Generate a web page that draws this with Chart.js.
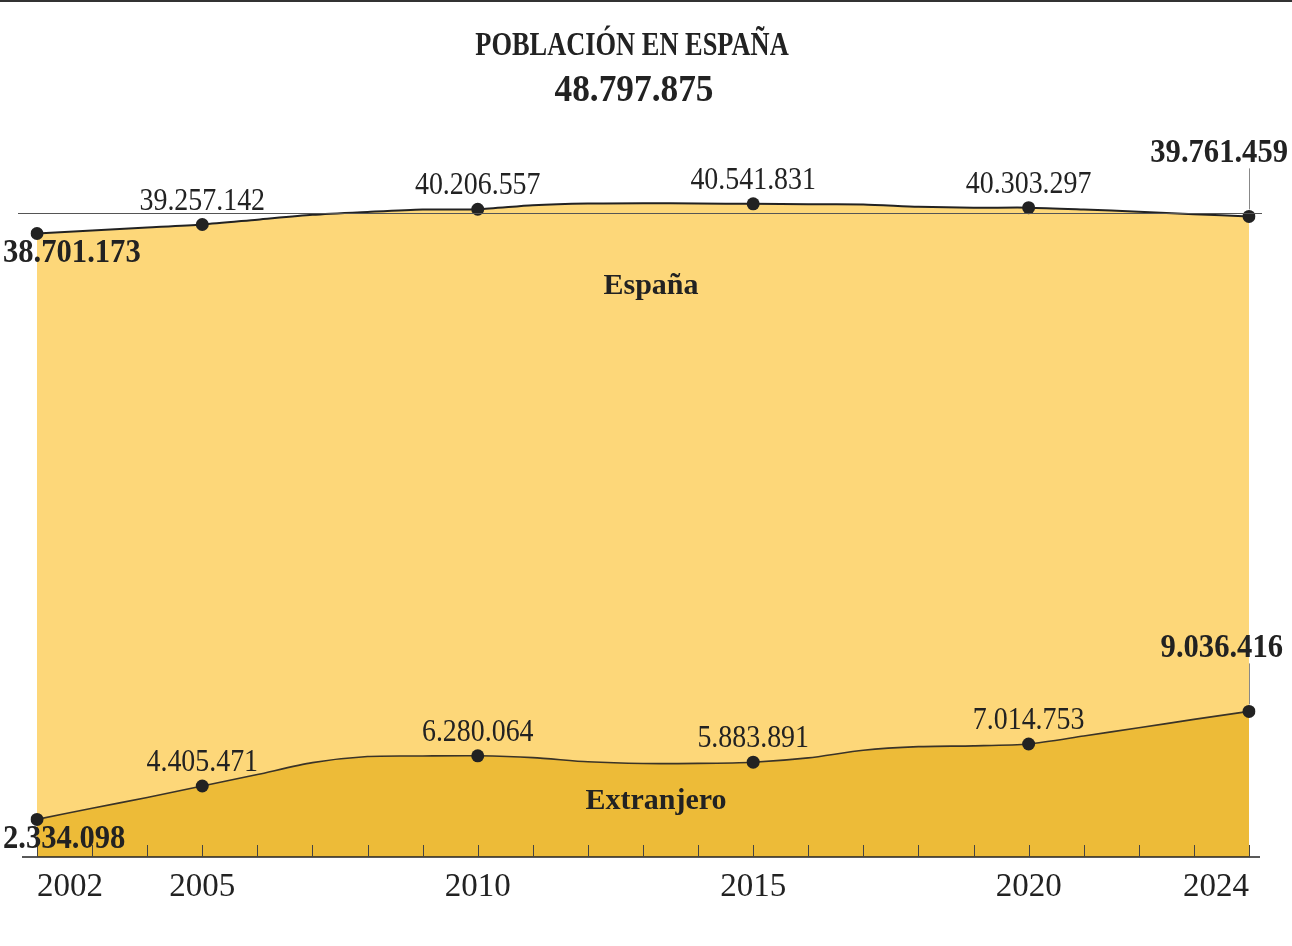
<!DOCTYPE html>
<html>
<head>
<meta charset="utf-8">
<script src="https://cdn.jsdelivr.net/npm/chart.js@4.4.1/dist/chart.umd.min.js"></script>
<style>
  html, body { margin: 0; padding: 0; background: #fff; }
  #wrap { width: 1292px; height: 946px; position: relative; }
</style>
</head>
<body>
<div id="wrap"><canvas id="c" width="1292" height="946"></canvas></div>
<script>
// ---- data ----
const years = ['2002','2003','2004','2005','2006','2007','2008','2009','2010','2011','2012','2013','2014','2015','2016','2017','2018','2019','2020','2021','2022','2023','2024'];
const espana = [38701173, 38890000, 39070000, 39257142, 39560000, 39860000, 40040000, 40190000, 40206557, 40450000, 40560000, 40580000, 40560000, 40541831, 40510000, 40500000, 40360000, 40300000, 40303297, 40190000, 40050000, 39900000, 39761459];
const extranjero = [2334098, 3030000, 3690000, 4405471, 5120000, 5860000, 6240000, 6270000, 6280064, 6170000, 5910000, 5800000, 5810000, 5883891, 6150000, 6630000, 6850000, 6900000, 7014753, 7510000, 8020000, 8540000, 9036416];
const labeledYears = ['2002','2005','2010','2015','2020','2024'];
const seriesNames = ['España', 'Extranjero'];
const titleText = 'POBLACIÓN EN ESPAÑA';
const refLineValue = 40000000;
const yMax = 45000000;

// ---- helpers ----
const FAM = "'Liberation Serif', 'DejaVu Serif', serif";
const INK = '#222';
function fmt(n) { return String(n).replace(/\B(?=(\d{3})+(?!\d))/g, '.'); }
function txt(ctx, s, x, y, font, align, sx) {
  ctx.save();
  ctx.font = font;
  ctx.fillStyle = INK;
  ctx.textBaseline = 'alphabetic';
  ctx.textAlign = align;
  ctx.translate(x, y);
  ctx.scale(sx, 1);
  ctx.fillText(s, 0, 0);
  ctx.restore();
}
function seg(ctx, x1, y1, x2, y2, color, w) {
  ctx.save();
  ctx.strokeStyle = color;
  ctx.lineWidth = w;
  ctx.beginPath();
  ctx.moveTo(x1, y1);
  ctx.lineTo(x2, y2);
  ctx.stroke();
  ctx.restore();
}

const total = espana[espana.length - 1] + extranjero[extranjero.length - 1];

const annotPlugin = {
  id: 'annot',
  afterDatasetsDraw(chart) {
    const ctx = chart.ctx;
    const ca = chart.chartArea;
    const xs = chart.scales.x;
    const ys = chart.scales.y;

    // top rule
    seg(ctx, 0, 1, chart.width, 1, '#333', 2);

    // reference line at 40M
    const yRef = Math.round(ys.getPixelForValue(refLineValue)) + 0.5;
    seg(ctx, ca.left - 19, yRef, ca.right + 13, yRef, '#555', 1);

    // axis line and inner ticks
    seg(ctx, ca.left - 15, ca.bottom, ca.right + 11, ca.bottom, INK, 1.6);
    for (let i = 0; i < years.length; i++) {
      const x = Math.round(xs.getPixelForTick(i)) + 0.5;
      seg(ctx, x, ca.bottom - 12, x, ca.bottom, '#444', 1);
    }

    // title
    txt(ctx, titleText, 632, 55, 'bold 33px ' + FAM, 'center', 0.8);
    txt(ctx, fmt(total), 634, 101, 'bold 38px ' + FAM, 'center', 0.93);

    // value labels (dataset 0 = Extranjero, dataset 1 = España)
    const sets = [
      { data: espana, idx: 1, lastRight: 1288 },
      { data: extranjero, idx: 0, lastRight: 1283 }
    ];
    sets.forEach(s => {
      const meta = chart.getDatasetMeta(s.idx);
      const n = s.data.length;
      for (let i = 0; i < n; i++) {
        if (!labeledYears.includes(years[i])) continue;
        const p = meta.data[i];
        const label = fmt(s.data[i]);
        if (i === 0) {
          txt(ctx, label, p.x - 34, p.y + 29, 'bold 34px ' + FAM, 'left', 0.9);
        } else if (i === n - 1) {
          const base = p.y - 54;
          seg(ctx, Math.round(p.x) + 0.5, p.y - 7, Math.round(p.x) + 0.5, base + 6, '#888', 1);
          txt(ctx, label, s.lastRight, base, 'bold 34px ' + FAM, 'right', 0.9);
        } else {
          txt(ctx, label, p.x, p.y - 15, '31px ' + FAM, 'center', 0.9);
        }
      }
    });

    // series names
    txt(ctx, seriesNames[0], 651, 294, 'bold 30px ' + FAM, 'center', 1);
    txt(ctx, seriesNames[1], 656, 809, 'bold 30px ' + FAM, 'center', 1);
  }
};

const ptRadius = c => labeledYears.includes(years[c.dataIndex]) ? 6.5 : 0;

new Chart(document.getElementById('c'), {
  type: 'line',
  data: {
    labels: years,
    datasets: [
      {
        label: seriesNames[1],
        data: extranjero,
        order: 1,
        fill: 'origin',
        backgroundColor: '#EDBB38',
        borderColor: '#3a3327',
        borderWidth: 1.6,
        tension: 0.25,
        pointRadius: ptRadius,
        pointHoverRadius: ptRadius,
        pointBackgroundColor: INK,
        pointBorderWidth: 0
      },
      {
        label: seriesNames[0],
        data: espana,
        order: 2,
        fill: 'origin',
        backgroundColor: '#FDD779',
        borderColor: INK,
        borderWidth: 2,
        tension: 0.25,
        pointRadius: ptRadius,
        pointHoverRadius: ptRadius,
        pointBackgroundColor: INK,
        pointBorderWidth: 0
      }
    ]
  },
  options: {
    responsive: false,
    animation: false,
    devicePixelRatio: 1,
    layout: { padding: { left: 37, right: 43, top: 132, bottom: 0 } },
    plugins: {
      legend: { display: false },
      tooltip: { enabled: false },
      title: { display: false }
    },
    scales: {
      x: {
        type: 'category',
        offset: false,
        grid: { display: false, drawTicks: false },
        border: { display: false },
        ticks: {
          autoSkip: false,
          maxRotation: 0,
          minRotation: 0,
          align: 'inner',
          padding: 11,
          color: INK,
          font: { family: FAM, size: 33 },
          callback: function(v, i) { return labeledYears.includes(years[i]) ? years[i] : ''; }
        },
        afterFit: s => { s.height = 89; }
      },
      y: {
        display: false,
        min: 0,
        max: yMax
      }
    }
  },
  plugins: [annotPlugin]
});
</script>
</body>
</html>
